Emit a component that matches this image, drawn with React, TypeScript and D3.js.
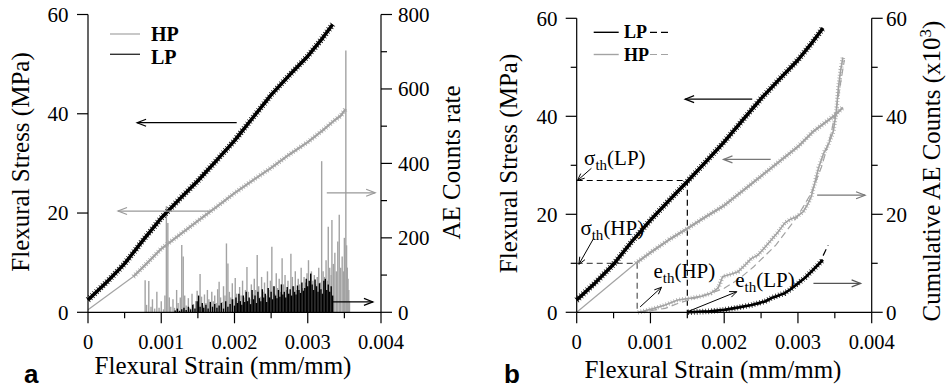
import React from "react";
import * as d3 from "d3";

type P = [number, number];

// strain values are expressed in units of 10^-3 mm/mm
const strainTicks = [0, 1, 2, 3, 4];
const strainMinorTicks = [0.5, 1.5, 2.5, 3.5];
const strainTickLabels = ["0", "0.001", "0.002", "0.003", "0.004"];
const stressTicks = [0, 20, 40, 60];
const stressMinorTicks = [10, 30, 50];
const aeRateTicks = [0, 200, 400, 600, 800];
const aeRateMinorTicks = [100, 300, 500, 700];
const cumTicks = [0, 20, 40, 60];
const cumMinorTicks = [10, 30, 50];

// ---------- Panel a ----------
const lpStressA: P[] = [
  [0, 2.5], [0.25, 6.0], [0.5, 9.8], [0.75, 14.5], [1.0, 19.0], [1.25, 22.8], [1.5, 26.5],
  [1.75, 30.5], [2.0, 34.6], [2.25, 39.2], [2.5, 43.8], [2.75, 47.8], [3.0, 51.6],
  [3.2, 55.2], [3.34, 58.0],
];
const hpStressThinA: P[] = [[0, 0.5], [0.62, 7.2]];
const hpStressA: P[] = [
  [0.62, 7.2], [0.8, 9.8], [1.0, 12.8], [1.25, 15.6], [1.5, 18.4], [1.75, 21.2], [2.0, 24.0],
  [2.25, 26.6], [2.5, 29.1], [2.75, 31.8], [3.0, 34.3], [3.2, 36.6], [3.35, 38.5],
  [3.45, 39.6], [3.52, 41.0],
];
const hpRateA: P[] = [
  [0.78, 86], [0.8, 20], [0.83, 84], [0.86, 15], [0.88, 35], [0.91, 10], [0.94, 55], [0.97, 12],
  [1.0, 30], [1.03, 8], [1.05, 45], [1.07, 285], [1.09, 240], [1.11, 40], [1.13, 15], [1.16, 35],
  [1.18, 12], [1.21, 60], [1.23, 25], [1.26, 40], [1.28, 181], [1.3, 150], [1.32, 45], [1.34, 18],
  [1.37, 38], [1.39, 12], [1.42, 50], [1.44, 22], [1.47, 30], [1.49, 58], [1.51, 20], [1.53, 103],
  [1.55, 42], [1.57, 18], [1.59, 48], [1.61, 25], [1.63, 60], [1.65, 35], [1.67, 20], [1.69, 55],
  [1.71, 30], [1.73, 45], [1.75, 25], [1.77, 62], [1.79, 82], [1.81, 40], [1.83, 28], [1.85, 70],
  [1.87, 45], [1.89, 185], [1.91, 131], [1.93, 55], [1.95, 40], [1.97, 78], [1.99, 35], [2.01, 92],
  [2.03, 50], [2.05, 30], [2.07, 68], [2.09, 45], [2.11, 85], [2.13, 40], [2.15, 60], [2.17, 122],
  [2.19, 55], [2.21, 35], [2.23, 75], [2.25, 48], [2.27, 90], [2.29, 60], [2.31, 154], [2.33, 70],
  [2.35, 42], [2.37, 95], [2.39, 55], [2.41, 80], [2.43, 45], [2.45, 110], [2.47, 60], [2.49, 85],
  [2.51, 176], [2.53, 70], [2.55, 50], [2.57, 105], [2.59, 65], [2.61, 90], [2.63, 55], [2.65, 145],
  [2.67, 75], [2.69, 100], [2.71, 60], [2.73, 85], [2.75, 50], [2.77, 157], [2.79, 95], [2.81, 70],
  [2.83, 110], [2.85, 60], [2.87, 90], [2.89, 75], [2.91, 120], [2.93, 65], [2.95, 95], [2.97, 80],
  [2.99, 105], [3.01, 140], [3.03, 70], [3.05, 110], [3.07, 85], [3.09, 100], [3.11, 75], [3.13, 95],
  [3.15, 120], [3.17, 80], [3.19, 406], [3.21, 110], [3.23, 95], [3.25, 140], [3.27, 85], [3.28, 230],
  [3.3, 120], [3.32, 100], [3.33, 248], [3.35, 130], [3.37, 160], [3.39, 110], [3.41, 190], [3.43, 262],
  [3.45, 120], [3.47, 150], [3.49, 110], [3.5, 200], [3.52, 703], [3.53, 180], [3.54, 120], [3.55, 90],
  [3.56, 60], [3.57, 30],
];
const lpRateA: P[] = [
  [1.19, 5], [1.22, 10], [1.25, 4], [1.28, 8], [1.31, 12], [1.34, 6], [1.37, 15], [1.4, 8],
  [1.43, 20], [1.46, 10], [1.49, 30], [1.51, 45], [1.53, 15], [1.56, 25], [1.58, 12], [1.61, 20],
  [1.64, 10], [1.67, 28], [1.7, 15], [1.73, 22], [1.76, 12], [1.79, 18], [1.82, 25], [1.85, 10],
  [1.88, 30], [1.91, 15], [1.94, 22], [1.97, 35], [2.0, 18], [2.02, 40], [2.04, 25], [2.06, 50],
  [2.08, 30], [2.1, 20], [2.12, 45], [2.14, 28], [2.16, 55], [2.18, 30], [2.2, 40], [2.22, 22],
  [2.24, 60], [2.26, 35], [2.28, 45], [2.3, 25], [2.32, 55], [2.34, 38], [2.36, 30], [2.38, 62],
  [2.4, 40], [2.42, 50], [2.44, 28], [2.46, 65], [2.48, 40], [2.5, 55], [2.52, 35], [2.54, 70],
  [2.56, 45], [2.58, 38], [2.6, 60], [2.62, 42], [2.64, 75], [2.66, 48], [2.68, 55], [2.7, 40],
  [2.72, 68], [2.74, 50], [2.76, 62], [2.78, 45], [2.8, 70], [2.82, 55], [2.84, 48], [2.86, 72],
  [2.88, 60], [2.9, 52], [2.92, 80], [2.94, 58], [2.96, 65], [2.98, 90], [3.0, 70], [3.02, 85],
  [3.04, 104], [3.06, 75], [3.08, 60], [3.1, 88], [3.12, 70], [3.14, 55], [3.16, 78], [3.18, 62],
  [3.2, 50], [3.22, 85], [3.24, 90], [3.26, 60], [3.28, 75], [3.3, 55], [3.32, 70], [3.34, 45],
];

// ---------- Panel b ----------
const lpStressB: P[] = [
  [0, 2.5], [0.25, 6.0], [0.5, 9.8], [0.75, 14.5], [1.0, 18.8], [1.25, 22.8], [1.5, 26.7],
  [1.75, 30.7], [2.0, 34.8], [2.25, 39.2], [2.5, 43.6], [2.75, 47.6], [3.0, 51.5],
  [3.2, 55.2], [3.34, 58.0],
];
const hpStressThinB: P[] = [[0, 0], [0.8, 10]];
const hpStressB: P[] = [
  [0.8, 10], [1.0, 12.2], [1.25, 14.8], [1.5, 17.1], [1.75, 19.5], [2.0, 21.8], [2.25, 24.8],
  [2.5, 27.8], [2.75, 30.8], [3.0, 33.8], [3.2, 36.8], [3.35, 38.5], [3.5, 40.2], [3.61, 41.8],
];
const hpCumB: P[] = [
  [0.83, 0], [0.9, 0.2], [1.05, 0.8], [1.2, 1.5], [1.37, 2.5], [1.55, 2.9], [1.7, 3.3],
  [1.82, 3.9], [1.92, 5.0], [1.98, 7.3], [2.1, 7.8], [2.19, 8.3], [2.28, 9.6], [2.37, 11.0],
  [2.45, 11.6], [2.52, 12.7], [2.64, 14.8], [2.72, 16.2], [2.82, 18.2], [2.9, 19.0], [2.98, 19.5],
  [3.07, 20.5], [3.13, 22.0], [3.18, 23.6], [3.23, 26.5], [3.28, 29.5], [3.35, 32.5],
  [3.42, 34.5], [3.48, 37.0], [3.52, 41.0], [3.55, 46.0], [3.58, 49.5], [3.61, 52.0],
];
const hpCumFitB: P[] = [
  [0.85, 0], [1.2, 0.8], [1.37, 1.8], [1.8, 3.8], [2.0, 4.9], [2.2, 6.8], [2.4, 9.3], [2.7, 13.7],
  [2.99, 19.5], [3.18, 24.3], [3.32, 29.7], [3.45, 36.5], [3.54, 43.3], [3.6, 48.8], [3.63, 51.5],
];
const lpCumB: P[] = [
  [1.51, 0], [1.8, 0.2], [2.0, 0.5], [2.2, 1.0], [2.37, 1.5], [2.55, 2.2], [2.64, 2.9],
  [2.73, 3.4], [2.82, 3.9], [2.9, 4.7], [3.0, 5.9], [3.1, 7.1], [3.18, 8.3], [3.26, 9.5], [3.34, 10.7],
];
const lpCumFitB: P[] = [
  [1.51, 0], [2.0, 0.4], [2.5, 1.8], [2.8, 3.7], [3.0, 5.7], [3.2, 8.4], [3.3, 10.3], [3.41, 13.7],
];
const thStressLP = 26.9;
const thStrainLP = 1.5;
const thStressHP = 10.0;
const thStrainHP = 0.82;

const SERIF = "'Liberation Serif', 'Times New Roman', serif";
const GRAY = "#a3a3a3";

type Scale = d3.ScaleLinear<number, number>;

function Arrow({ x1, y1, x2, y2, color = "#000", head = 9, half = 3.5, w = 1.2 }: any) {
  const a = Math.atan2(y2 - y1, x2 - x1);
  const bx = x2 - head * Math.cos(a);
  const by = y2 - head * Math.sin(a);
  const px = -Math.sin(a);
  const py = Math.cos(a);
  return (
    <g stroke={color} strokeWidth={w} fill="none">
      <line x1={x1} y1={y1} x2={x2} y2={y2} />
      <path d={`M${bx + half * px},${by + half * py}L${x2},${y2}L${bx - half * px},${by - half * py}`} />
    </g>
  );
}

function NoisyLine({ d, color, w }: { d: string; color: string; w: number }) {
  return (
    <g fill="none" stroke={color} strokeLinejoin="round">
      <path d={d} strokeWidth={w} />
      <path d={d} strokeWidth={w + 3} strokeDasharray="0.7 2.2" />
    </g>
  );
}

function XAxis({ x, y0 }: { x: Scale; y0: number }) {
  return (
    <g>
      <line x1={x(0)} x2={x(4)} y1={y0} y2={y0} stroke="#000" strokeWidth={1.2} />
      {strainTicks.map((t, i) => (
        <g key={t}>
          <line x1={x(t)} x2={x(t)} y1={y0} y2={y0 + 11} stroke="#000" strokeWidth={1.2} />
          <text x={x(t)} y={y0 + 37} textAnchor="middle" fontFamily={SERIF} fontSize={20.5}>
            {strainTickLabels[i]}
          </text>
        </g>
      ))}
      {strainMinorTicks.map((t) => (
        <line key={t} x1={x(t)} x2={x(t)} y1={y0} y2={y0 + 6} stroke="#000" strokeWidth={1.2} />
      ))}
    </g>
  );
}

function YAxis({ y, x0, ticks, minor, side, labelX }: any) {
  const dir = side === "left" ? -1 : 1;
  const dom = y.domain();
  return (
    <g>
      <line x1={x0} x2={x0} y1={y(dom[0])} y2={y(dom[1])} stroke="#000" strokeWidth={1.2} />
      {ticks.map((t: number) => (
        <g key={t}>
          <line x1={x0} x2={x0 + dir * 11} y1={y(t)} y2={y(t)} stroke="#000" strokeWidth={1.2} />
          <text
            x={labelX}
            y={y(t)}
            dy="0.35em"
            textAnchor={side === "left" ? "end" : "start"}
            fontFamily={SERIF}
            fontSize={21}
          >
            {t}
          </text>
        </g>
      ))}
      {minor.map((t: number) => (
        <line key={t} x1={x0} x2={x0 + dir * 6} y1={y(t)} y2={y(t)} stroke="#000" strokeWidth={1.2} />
      ))}
    </g>
  );
}

export default function App() {
  // Panel a scales
  const xA = d3.scaleLinear().domain([0, 4]).range([88, 381]);
  const yA = d3.scaleLinear().domain([0, 60]).range([312.3, 14.5]);
  const rA = d3.scaleLinear().domain([0, 800]).range([312.3, 14.5]);
  // Panel b scales
  const xB = d3.scaleLinear().domain([0, 4]).range([576.7, 871.7]);
  const yB = d3.scaleLinear().domain([0, 60]).range([312.3, 18.3]);
  const cB = d3.scaleLinear().domain([0, 60]).range([312.3, 18.3]);

  const lineA = d3.line<P>().x((d) => xA(d[0])).y((d) => yA(d[1]));
  const lineB = d3.line<P>().x((d) => xB(d[0])).y((d) => yB(d[1]));
  const lineBc = d3.line<P>().x((d) => xB(d[0])).y((d) => cB(d[1]));

  return (
    <svg
      width={947}
      height={390}
      style={{ position: "absolute", left: 0, top: 0, background: "#fff" }}
    >
      <rect width={947} height={390} fill="#fff" />
      {/* ================= Panel a ================= */}
      <g>
        {hpRateA.map(([s, c], i) => (
          <line key={"h" + i} x1={xA(s)} x2={xA(s)} y1={rA(0)} y2={rA(c)} stroke={GRAY} strokeWidth={1.4} />
        ))}
        {lpRateA.map(([s, c], i) => (
          <line key={"l" + i} x1={xA(s)} x2={xA(s)} y1={rA(0)} y2={rA(c)} stroke="#000" strokeWidth={1.4} />
        ))}
        <path d={lineA(hpStressThinA) || ""} stroke={GRAY} strokeWidth={1.2} fill="none" />
        <NoisyLine d={lineA(hpStressA) || ""} color={GRAY} w={2.2} />
        <NoisyLine d={lineA(lpStressA) || ""} color="#000" w={3.4} />

        <Arrow x1={xA(2.03)} y1={yA(38.2)} x2={xA(0.67)} y2={yA(38.2)} color="#000" />
        <Arrow x1={xA(1.67)} y1={yA(20.4)} x2={xA(0.41)} y2={yA(20.4)} color="#999" />
        <Arrow x1={xA(3.26)} y1={rA(321)} x2={xA(3.92)} y2={rA(321)} color="#999" />
        <Arrow x1={xA(3.34)} y1={rA(28)} x2={xA(3.89)} y2={rA(28)} color="#000" />

        <XAxis x={xA} y0={312.3} />
        <YAxis y={yA} x0={88} ticks={stressTicks} minor={[]} side="left" labelX={68.5} />
        <YAxis y={rA} x0={381} ticks={aeRateTicks} minor={aeRateMinorTicks} side="right" labelX={398} />

        {/* legend */}
        <line x1={110} x2={140} y1={34} y2={34} stroke={GRAY} strokeWidth={1.2} />
        <text x={151} y={40.7} fontFamily={SERIF} fontWeight="bold" fontSize={20}>HP</text>
        <line x1={110} x2={140} y1={54.3} y2={54.3} stroke="#333" strokeWidth={1.4} />
        <text x={151} y={64.3} fontFamily={SERIF} fontWeight="bold" fontSize={20}>LP</text>

        <text x={223} y={374} textAnchor="middle" fontFamily={SERIF} fontSize={25}>
          Flexural Strain (mm/mm)
        </text>
        <text transform="translate(29,162) rotate(-90)" textAnchor="middle" fontFamily={SERIF} fontSize={25}>
          Flexural Stress (MPa)
        </text>
        <text transform="translate(460,162.5) rotate(-90)" textAnchor="middle" fontFamily={SERIF} fontSize={25}>
          AE Counts rate
        </text>
        <text x={24} y={383} fontFamily="'Liberation Sans', Arial, sans-serif" fontWeight="bold" fontSize={26}>a</text>
      </g>

      {/* ================= Panel b ================= */}
      <g>
        {/* threshold guides */}
        <path
          d={`M${xB(0)},${yB(thStressLP)}H${xB(thStrainLP)}V${yB(0)}`}
          fill="none"
          stroke="#000"
          strokeWidth={1.2}
          strokeDasharray="6 4"
        />
        <path
          d={`M${xB(0)},${yB(thStressHP)}H${xB(thStrainHP)}V${yB(0)}`}
          fill="none"
          stroke="#555"
          strokeWidth={1.2}
          strokeDasharray="6 4"
        />

        <path d={lineBc(hpCumFitB) || ""} stroke={GRAY} strokeWidth={1.2} fill="none" strokeDasharray="7 4" />
        <path d={lineBc(lpCumFitB) || ""} stroke="#000" strokeWidth={1.2} fill="none" strokeDasharray="7 4" />
        <NoisyLine d={lineBc(hpCumB) || ""} color={GRAY} w={1.6} />
        <NoisyLine d={lineBc(lpCumB) || ""} color="#000" w={2.6} />

        <path d={lineB(hpStressThinB) || ""} stroke={GRAY} strokeWidth={1.2} fill="none" />
        <NoisyLine d={lineB(hpStressB) || ""} color={GRAY} w={2.2} />
        <NoisyLine d={lineB(lpStressB) || ""} color="#000" w={3.4} />

        <Arrow x1={xB(2.38)} y1={yB(43.5)} x2={xB(1.47)} y2={yB(43.5)} color="#000" />
        <Arrow x1={xB(2.63)} y1={yB(31.2)} x2={xB(1.99)} y2={yB(31.2)} color="#777" />
        <Arrow x1={xB(3.26)} y1={cB(23.9)} x2={xB(3.91)} y2={cB(23.9)} color="#777" />
        <Arrow x1={xB(3.21)} y1={cB(5.9)} x2={xB(3.85)} y2={cB(5.9)} color="#555" />

        {/* threshold labels */}
        <Arrow x1={xB(0.2)} y1={yB(29.4)} x2={xB(0.01)} y2={yB(26.9)} color="#000" head={7} half={3} w={1} />
        <text x={xB(0.1)} y={yB(30)} fontFamily={SERIF} fontSize={21}>
          σ<tspan dy={5} fontSize={15}>th</tspan>
          <tspan dy={-5}>(LP)</tspan>
        </text>
        <Arrow x1={xB(0.23)} y1={yB(15.1)} x2={xB(0.03)} y2={yB(9.8)} color="#000" head={7} half={3} w={1} />
        <text x={xB(0.05)} y={yB(15.8)} fontFamily={SERIF} fontSize={21}>
          σ<tspan dy={5} fontSize={15}>th</tspan>
          <tspan dy={-5}>(HP)</tspan>
        </text>
        <Arrow x1={xB(0.86)} y1={cB(1.1)} x2={xB(1.15)} y2={cB(5.1)} color="#000" head={7} half={3} w={1} />
        <text x={xB(1.04)} y={cB(7.0)} fontFamily={SERIF} fontSize={21}>
          e<tspan dy={5} fontSize={15}>th</tspan>
          <tspan dy={-5}>(HP)</tspan>
        </text>
        <Arrow x1={xB(1.5)} y1={cB(0.1)} x2={xB(2.17)} y2={cB(4.2)} color="#000" head={7} half={3} w={1} />
        <text x={xB(2.15)} y={cB(5.2)} fontFamily={SERIF} fontSize={21}>
          e<tspan dy={5} fontSize={15}>th</tspan>
          <tspan dy={-5}>(LP)</tspan>
        </text>

        <XAxis x={xB} y0={312.3} />
        <YAxis y={yB} x0={576.7} ticks={stressTicks} minor={stressMinorTicks} side="left" labelX={557.5} />
        <YAxis y={cB} x0={871.7} ticks={cumTicks} minor={cumMinorTicks} side="right" labelX={886} />

        {/* legend */}
        <line x1={593.7} x2={618.7} y1={32.3} y2={32.3} stroke="#000" strokeWidth={1.4} />
        <text x={624} y={38.3} fontFamily={SERIF} fontWeight="bold" fontSize={18}>LP</text>
        <line x1={650} x2={671} y1={32.3} y2={32.3} stroke="#000" strokeWidth={1.2} strokeDasharray="7 4" />
        <line x1={593.7} x2={618.7} y1={54.5} y2={54.5} stroke={GRAY} strokeWidth={1.4} />
        <text x={624} y={61} fontFamily={SERIF} fontWeight="bold" fontSize={18}>HP</text>
        <line x1={650} x2={671} y1={54.5} y2={54.5} stroke={GRAY} strokeWidth={1.2} strokeDasharray="7 4" />

        <text x={713} y={378} textAnchor="middle" fontFamily={SERIF} fontSize={25}>
          Flexural Strain (mm/mm)
        </text>
        <text transform="translate(517,163.5) rotate(-90)" textAnchor="middle" fontFamily={SERIF} fontSize={25}>
          Flexural Stress (MPa)
        </text>
        <text transform="translate(940,171) rotate(-90)" textAnchor="middle" fontFamily={SERIF} fontSize={25}>
          Cumulative AE Counts (x10<tspan dy={-9} fontSize={17}>3</tspan>
          <tspan dy={9}>)</tspan>
        </text>
        <text x={504} y={383} fontFamily="'Liberation Sans', Arial, sans-serif" fontWeight="bold" fontSize={26}>b</text>
      </g>
    </svg>
  );
}
